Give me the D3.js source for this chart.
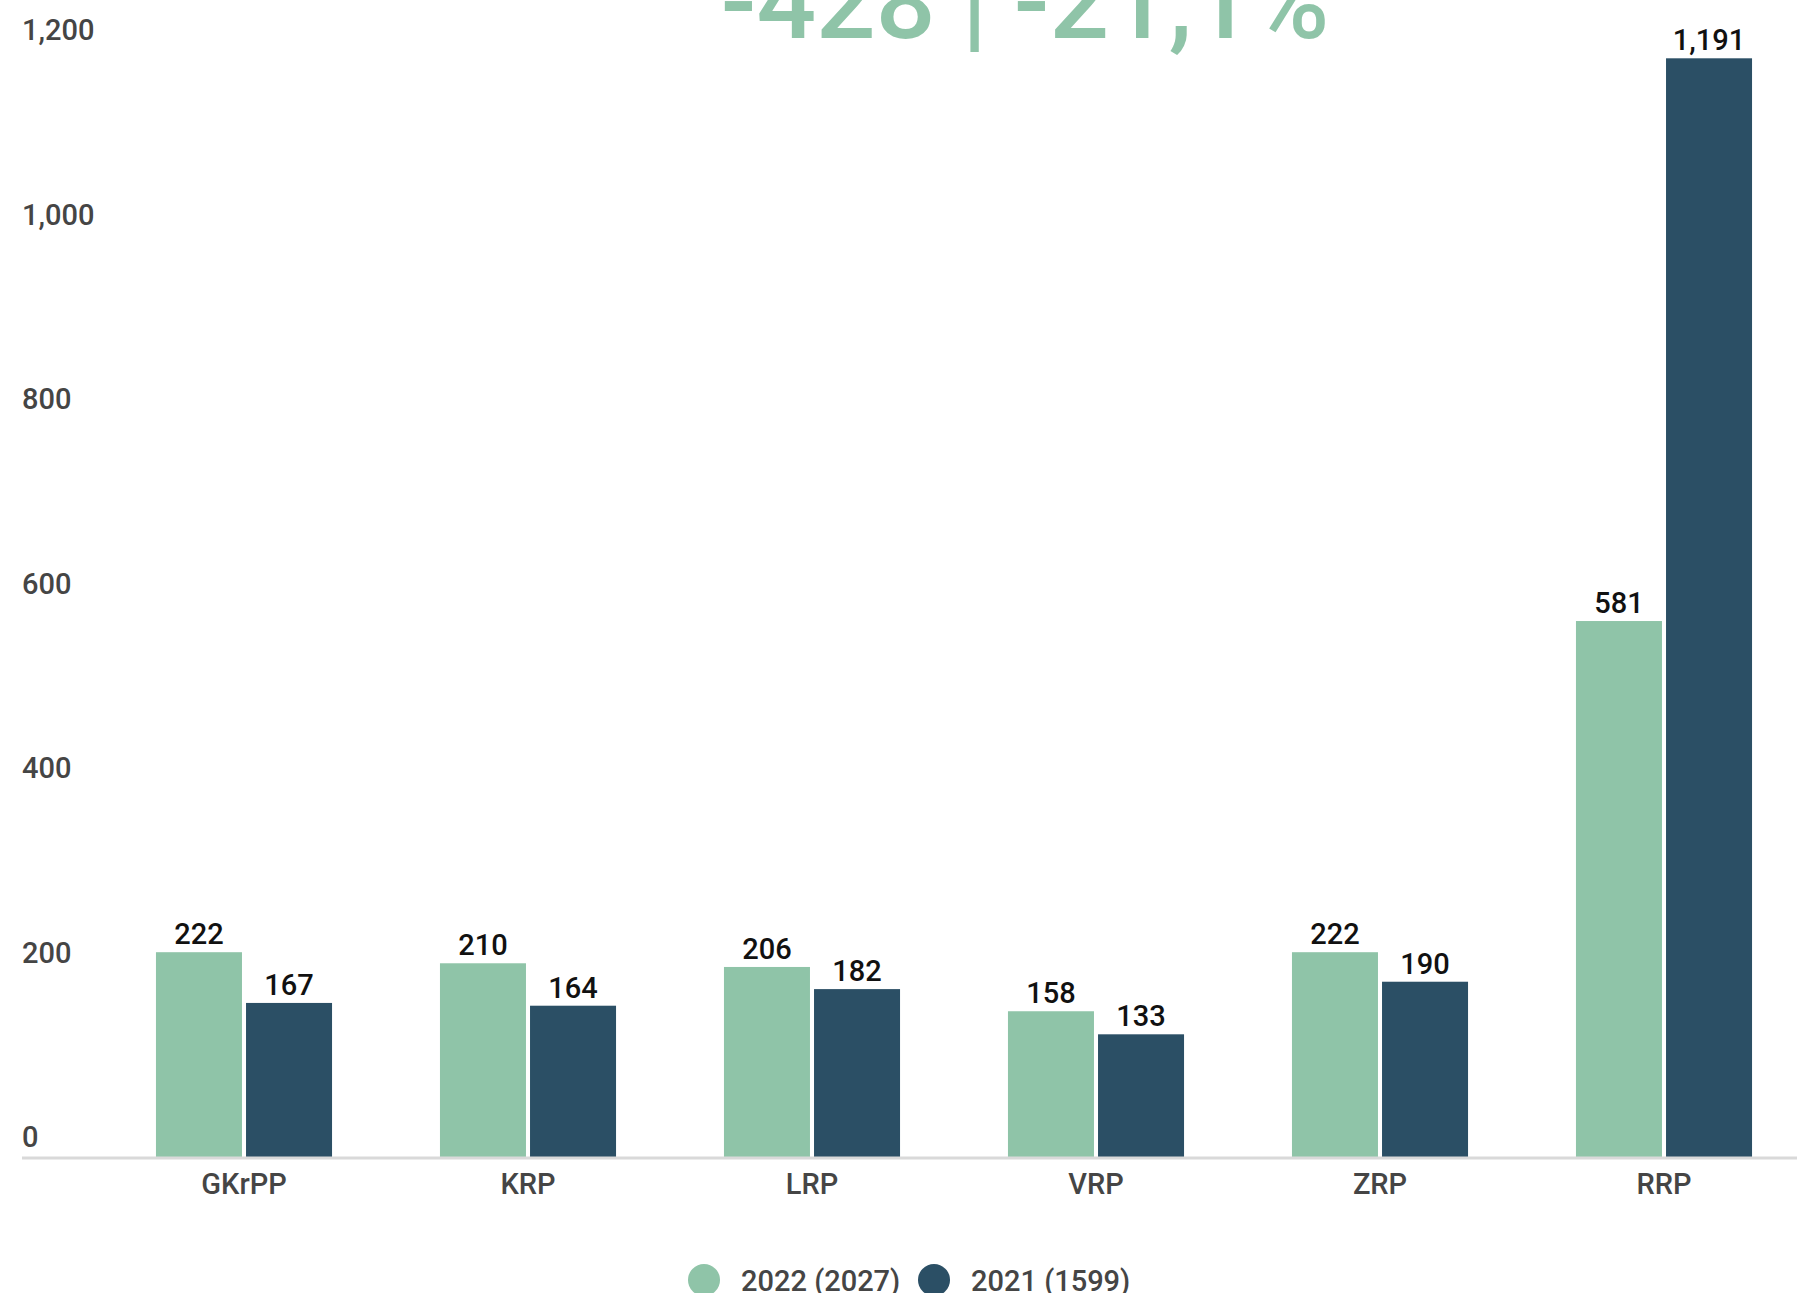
<!DOCTYPE html>
<html>
<head>
	<title>Chart</title>
	<script type="text/javascript" src="https://d3js.org/d3.v7.min.js"></script>
	<style>
		body { margin: 0; background: #fff; }
		text { font-family: Roboto, "Noto Sans", sans-serif; }
	</style>
</head>
<body>
<div id="container"></div>
<script type="text/javascript">

var categories = ["GKrPP", "KRP", "LRP", "VRP", "ZRP", "RRP"];
var values2022 = [222, 210, 206, 158, 222, 581];
var values2021 = [167, 164, 182, 133, 190, 1191];
var seriesNames = ["2022 (2027)", "2021 (1599)"];
var yTicks = [0, 200, 400, 600, 800, 1000, 1200];
var headline = "-428 | -21,1%";

var colors = ["#8fc4a8", "#2b4f65"];
var width = 1797;
var height = 1293;

var svg = d3.select("#container").append("svg")
	.attr("width", width).attr("height", height);

var x0 = d3.scaleBand()
	.domain(categories)
	.range([102, 1806])
	.paddingInner(0.38)
	.paddingOuter(0.19);

var x1 = d3.scaleBand()
	.domain([0, 1])
	.range([0, x0.bandwidth()])
	.paddingInner(0.045);

var y = d3.scaleLinear()
	.domain([0, 1200])
	.range([1157, 50]);

var fmt = d3.format(",");

// headline, mostly cut off at the top
svg.append("text")
	.attr("x", 1025).attr("y", 38)
	.attr("text-anchor", "middle")
	.attr("font-size", 105).attr("font-weight", 500)
	.attr("fill", colors[0])
	.text(headline);

// y tick labels sit just above their value
svg.append("g").selectAll("text")
	.data(yTicks)
	.enter().append("text")
	.attr("x", 22)
	.attr("y", function(d) { return y(d) - 10; })
	.attr("font-size", 29).attr("font-weight", 500)
	.attr("fill", "#454545")
	.text(function(d) { return fmt(d); });

var rows = categories.map(function(c, i) {
	return {cat: c, vals: [values2022[i], values2021[i]]};
});

var groups = svg.append("g").selectAll("g")
	.data(rows)
	.enter().append("g")
	.attr("transform", function(d) { return "translate(" + x0(d.cat) + ",0)"; });

var bars = groups.selectAll("g")
	.data(function(d) { return d.vals.map(function(v, i) { return {s: i, v: v}; }); })
	.enter().append("g");

bars.append("rect")
	.attr("x", function(d) { return x1(d.s); })
	.attr("y", function(d) { return y(d.v); })
	.attr("width", x1.bandwidth())
	.attr("height", function(d) { return y(0) - y(d.v); })
	.attr("fill", function(d) { return colors[d.s]; });

bars.append("text")
	.attr("x", function(d) { return x1(d.s) + x1.bandwidth() / 2; })
	.attr("y", function(d) { return y(d.v) - 8; })
	.attr("text-anchor", "middle")
	.attr("font-size", 29).attr("font-weight", 500)
	.attr("fill", "#111")
	.text(function(d) { return fmt(d.v); });

// baseline
svg.append("line")
	.attr("x1", 22).attr("x2", width)
	.attr("y1", y(0) + 1).attr("y2", y(0) + 1)
	.attr("stroke", "#d9d9d9").attr("stroke-width", 3);

var xAxis = svg.append("g")
	.attr("transform", "translate(0," + (y(0) + 2) + ")")
	.call(d3.axisBottom(x0).tickSize(0).tickPadding(14));
xAxis.select(".domain").remove();
xAxis.selectAll("text")
	.attr("font-size", 29).attr("font-weight", 500)
	.attr("fill", "#454545")
	.attr("font-family", "Roboto");

// legend
var legendX = [704, 934];
var legend = svg.append("g").selectAll("g")
	.data(seriesNames)
	.enter().append("g")
	.attr("transform", function(d, i) { return "translate(" + legendX[i] + ",1280)"; });

legend.append("circle")
	.attr("r", 16)
	.attr("fill", function(d, i) { return colors[i]; });

legend.append("text")
	.attr("x", 37).attr("y", 11)
	.attr("font-size", 29).attr("font-weight", 500)
	.attr("fill", "#454545")
	.text(function(d) { return d; });

</script>
</body>
</html>
